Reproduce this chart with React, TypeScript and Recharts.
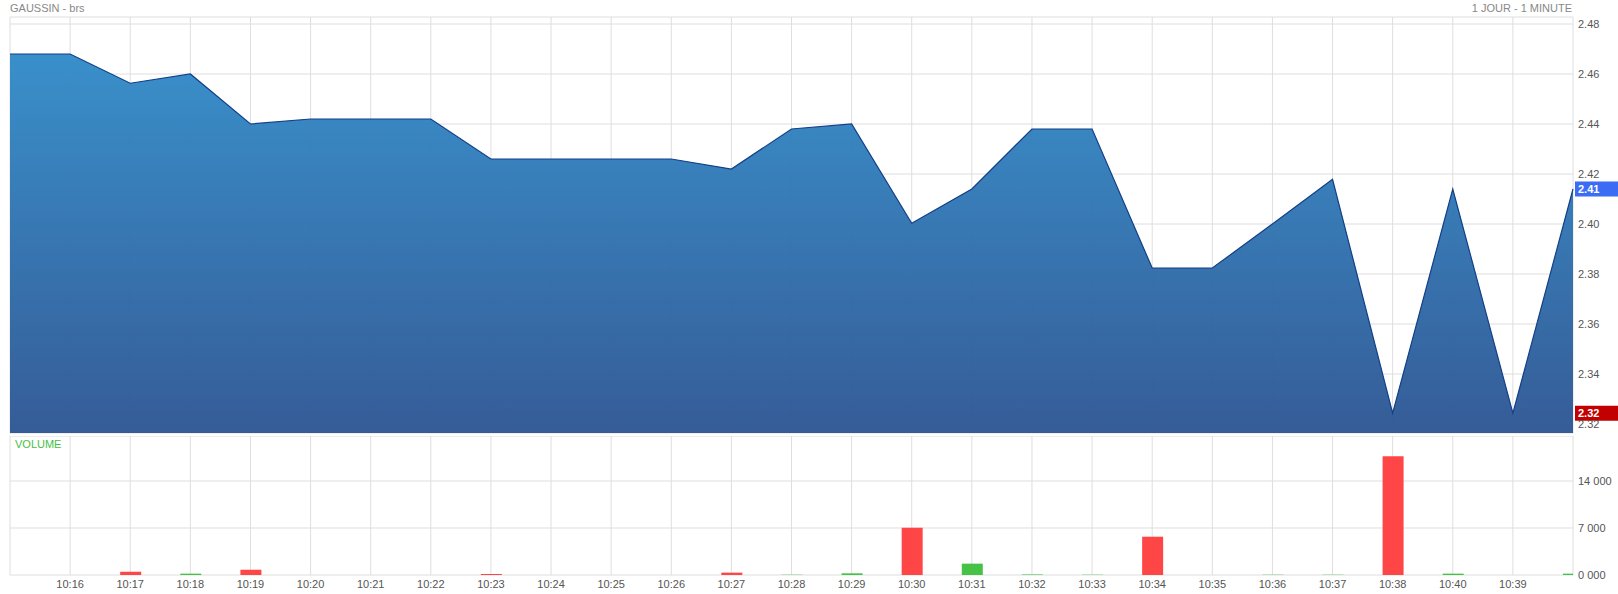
import React from "react";
import {
  AreaChart, Area, BarChart, Bar, Cell, XAxis, YAxis, CartesianGrid, ReferenceLine,
} from "recharts";

// one point per minute, the first and the last have no label
const TIMES = [
  "", "10:16", "10:17", "10:18", "10:19", "10:20", "10:21", "10:22", "10:23", "10:24",
  "10:25", "10:26", "10:27", "10:28", "10:29", "10:30", "10:31", "10:32", "10:33", "10:34",
  "10:35", "10:36", "10:37", "10:38", "10:40", "10:39", "",
];

const PRICES = [
  2.468, 2.468, 2.4563, 2.46, 2.44, 2.442, 2.442, 2.442, 2.426, 2.426,
  2.426, 2.426, 2.422, 2.438, 2.44, 2.4003, 2.414, 2.438, 2.438, 2.3824,
  2.3824, 2.40, 2.4179, 2.3243, 2.414, 2.3243, 2.414,
];

const VOLUMES = [
  0, 0, 500, 200, 800, 0, 0, 0, 150, 0,
  0, 0, 350, 40, 250, 7050, 1690, 80, 40, 5700,
  0, 40, 40, 17680, 200, 0, 200,
];

// d = down (red), u = up (green)
const VOLUME_DIR = [
  "u", "u", "d", "u", "d", "u", "u", "u", "d", "u",
  "u", "u", "d", "u", "u", "d", "u", "u", "u", "d",
  "u", "u", "u", "d", "u", "u", "u",
];

const PRICE_MIN = 2.3164;
const PRICE_MAX = 2.4828;
const PRICE_TICKS = [2.32, 2.34, 2.36, 2.38, 2.40, 2.42, 2.44, 2.46, 2.48, PRICE_MAX];

const VOL_MAX = 20700;
const VOL_TICKS = [0, 7000, 14000, VOL_MAX];

const X_TICKS = TIMES.map((_, i) => i);

const FONT = "'Liberation Sans', Arial, sans-serif";
const GRID = "#dedede";
const TICK = { fontSize: 11, fill: "#555", fontFamily: FONT };

const priceData = PRICES.map((p, i) => ({ i, price: p }));
const volumeData = VOLUMES.map((v, i) => ({ i, volume: v, dir: VOLUME_DIR[i] }));

const last = PRICES[PRICES.length - 1];
const low = Math.min(...PRICES);

function Tag(props: any) {
  const { viewBox, value, color } = props;
  if (!viewBox) return null;
  const x = viewBox.x + viewBox.width + 2;
  const y = viewBox.y;
  return (
    <g>
      <rect x={x} y={y - 7.5} width={43} height={15} fill={color} />
      <text x={x + 3} y={y} dy="0.36em" fill="#fff" fontSize={11} fontWeight="bold" fontFamily={FONT}>
        {value}
      </text>
    </g>
  );
}

export default function App() {
  return (
    <div style={{ position: "absolute", left: 0, top: 0, width: 1618, height: 594, background: "#fff", fontFamily: FONT }}>
      <div style={{ position: "absolute", left: 10, top: 2, fontSize: 11, color: "#888" }}>GAUSSIN - brs</div>
      <div style={{ position: "absolute", right: 46, top: 2, fontSize: 11, color: "#888" }}>1 JOUR - 1 MINUTE</div>

      <div style={{ position: "absolute", left: 0, top: 0 }}>
        <AreaChart width={1618} height={436} data={priceData} margin={{ top: 17, right: 0, bottom: 3, left: 10 }}>
          <defs>
            <linearGradient id="priceFill" x1="0" y1="0" x2="0" y2="1">
              <stop offset="0%" stopColor="#338cc9" />
              <stop offset="100%" stopColor="#2f5794" />
            </linearGradient>
          </defs>
          <CartesianGrid stroke={GRID} strokeWidth={1} />
          <XAxis dataKey="i" type="number" domain={[0, 26]} ticks={X_TICKS} hide />
          <YAxis
            orientation="right"
            width={45}
            domain={[PRICE_MIN, PRICE_MAX]}
            ticks={PRICE_TICKS}
            interval={0}
            allowDataOverflow
            axisLine={false}
            tickLine={false}
            tickSize={3}
            tick={{ ...TICK, textAnchor: "start" }}
            tickFormatter={(v: number) => (v === PRICE_MAX ? "" : v.toFixed(2))}
          />
          <Area
            type="linear"
            dataKey="price"
            stroke="#123f86"
            strokeWidth={1.2}
            fill="url(#priceFill)"
            fillOpacity={0.97}
            isAnimationActive={false}
            dot={false}
            activeDot={false}
          />
          <ReferenceLine y={last} stroke="none" ifOverflow="visible"
            label={(p: any) => <Tag {...p} value={last.toFixed(2)} color="#3b6cf3" />} />
          <ReferenceLine y={low} stroke="none" ifOverflow="visible"
            label={(p: any) => <Tag {...p} value={low.toFixed(2)} color="#c20000" />} />
        </AreaChart>
      </div>

      <div style={{ position: "absolute", left: 15, top: 438, fontSize: 11, color: "#44c044", zIndex: 2 }}>VOLUME</div>

      <div style={{ position: "absolute", left: 0, top: 436 }}>
        <BarChart width={1618} height={158} data={volumeData} margin={{ top: 0, right: 0, bottom: 0, left: 10 }}>
          <CartesianGrid stroke={GRID} strokeWidth={1} />
          <XAxis
            dataKey="i"
            type="number"
            domain={[0, 26]}
            ticks={X_TICKS}
            allowDataOverflow
            height={19}
            axisLine={false}
            tickLine={false}
            tickSize={3}
            interval={0}
            tick={TICK}
            tickFormatter={(v: number) => TIMES[v] ?? ""}
          />
          <YAxis
            orientation="right"
            width={45}
            domain={[0, VOL_MAX]}
            ticks={VOL_TICKS}
            interval={0}
            allowDataOverflow
            axisLine={false}
            tickLine={false}
            tickSize={3}
            tick={{ ...TICK, textAnchor: "start" }}
            tickFormatter={(v: number) =>
              v === VOL_MAX ? "" : v === 0 ? "0 000" : v.toLocaleString("fr-FR").replace(/\s/g, " ")}
          />
          <Bar dataKey="volume" barSize={21} isAnimationActive={false}>
            {volumeData.map((d, i) => (
              <Cell key={i} fill={d.dir === "d" ? "#ff3c3c" : "#3cbf3c"} fillOpacity={0.95} />
            ))}
          </Bar>
        </BarChart>
      </div>
    </div>
  );
}
